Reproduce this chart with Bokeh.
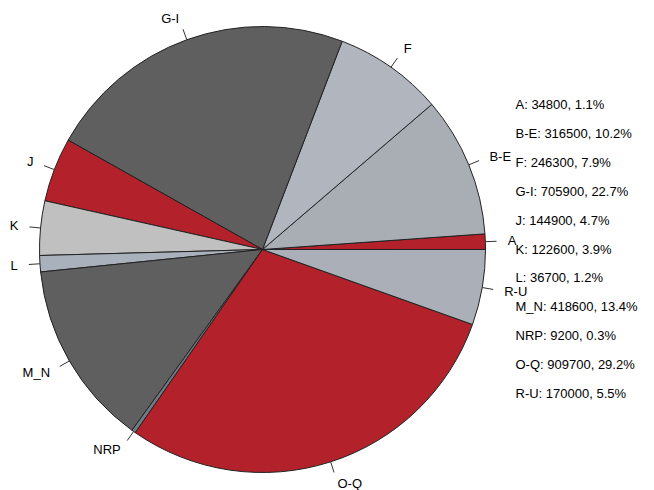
import math
from bokeh.plotting import figure
from bokeh.models import Range1d, ColumnDataSource
from bokeh.core.properties import value
from bokeh.embed import file_html
from bokeh.resources import INLINE

categories = ["A", "B-E", "F", "G-I", "J", "K", "L", "M_N", "NRP", "O-Q", "R-U"]
values = [34800, 316500, 246300, 705900, 144900, 122600, 36700, 418600, 9200, 909700, 170000]
colors = ["#B3222B", "#A9ADB4", "#B1B6BE", "#5F5F5F", "#B3222B", "#C0C0C0",
          "#A9B1BC", "#5F5F5F", "#6E7A84", "#B3222B", "#ABB0B8"]

W, H = 640, 490
cx, cy, r = 262, H - 249, 223

total = sum(values)
starts, ends, mids = [], [], []
acc = 0.0
for v in values:
    s = 2 * math.pi * acc / total
    acc += v
    e = 2 * math.pi * acc / total
    starts.append(s); ends.append(e); mids.append((s + e) / 2)

p = figure(width=W, height=H, output_backend="svg", toolbar_location=None,
           x_range=Range1d(0, W), y_range=Range1d(0, H), min_border=0)
p.axis.visible = False
p.grid.visible = False
p.outline_line_color = None

src = ColumnDataSource(dict(x=[cx] * len(values), y=[cy] * len(values),
                            s=starts, e=ends, c=colors))
p.wedge(x="x", y="y", radius=r, start_angle="s", end_angle="e", fill_color="c",
        line_color="#222222", line_width=1, source=src)

FS = "13px"
# tick lines and labels
x0s, y0s, x1s, y1s = [], [], [], []
lx_l, ly_l, lt_l, lx_r, ly_r, lt_r = [], [], [], [], [], []
for cat, m in zip(categories, mids):
    c, s = math.cos(m), math.sin(m)
    x0s.append(cx + r * c); y0s.append(cy + r * s)
    x1s.append(cx + 1.05 * r * c); y1s.append(cy + 1.05 * r * s)
    tx, ty = cx + 1.1 * r * c, cy + 1.1 * r * s
    if c < 0:
        lx_r.append(tx); ly_r.append(ty); lt_r.append(cat)
    else:
        lx_l.append(tx); ly_l.append(ty); lt_l.append(cat)
p.segment(x0=x0s, y0=y0s, x1=x1s, y1=y1s, line_color="#333333", line_width=1)
p.text(x=lx_l, y=ly_l, text=lt_l, text_align="left", text_baseline="middle",
       text_font=value("Liberation Sans"), text_font_size=FS, text_color="#000000")
p.text(x=lx_r, y=ly_r, text=lt_r, text_align="right", text_baseline="middle",
       text_font=value("Liberation Sans"), text_font_size=FS, text_color="#000000")

# legend-like text list
leg_text = [f"{c}: {v}, {100 * v / total:.1f}%" for c, v in zip(categories, values)]
leg_x = [515] * len(values)
leg_y = [H - (104 + 28.9 * i) for i in range(len(values))]
p.text(x=leg_x, y=leg_y, text=leg_text, text_align="left", text_baseline="middle",
       text_font=value("Liberation Sans"), text_font_size=FS, text_color="#000000")

open("out.html", "w").write(file_html(p, INLINE))
